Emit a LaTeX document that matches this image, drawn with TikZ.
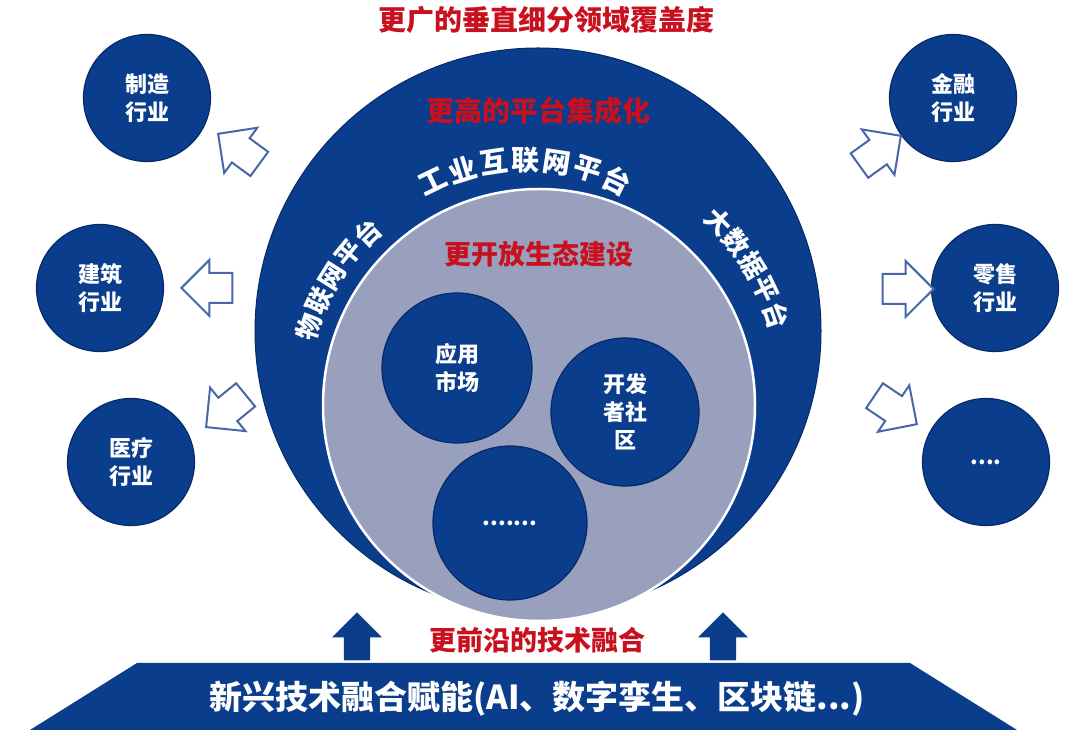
\documentclass[tikz,border=0pt]{standalone}
\usepackage{fontspec}
\setmainfont{Noto Sans CJK SC}
\definecolor{dkblue}{RGB}{10,61,140}
\definecolor{dkedge}{RGB}{6,42,104}
\definecolor{ecogray}{RGB}{152,160,190}
\definecolor{arrowblue}{RGB}{72,102,168}
\definecolor{accred}{RGB}{200,16,30}
\usetikzlibrary{shapes.arrows,shapes.geometric}

\begin{document}
\begin{tikzpicture}[x=1pt, y=1pt,
    ind/.style={circle, fill=dkblue, draw=dkedge, line width=1.2pt,
                minimum size=127, inner sep=0pt, text=white, align=center,
                font=\fontsize{22}{28}\selectfont\bfseries},
    eco/.style={ind, minimum size=150},
    hollow/.style={single arrow, draw=arrowblue, fill=white, line width=2pt,
                   minimum height=51, inner xsep=0pt, inner ysep=14pt,
                   single arrow head extend=13pt, anchor=tip},
    pushup/.style={single arrow, fill=dkblue, rotate=90, anchor=tip,
                   minimum height=48, inner xsep=0pt, inner ysep=13pt,
                   single arrow head extend=12pt},
    redtitle/.style={text=accred, font=\fontsize{28}{30}\selectfont\bfseries},
    ringchar/.style={text=white, inner sep=0pt,
                     font=\fontsize{26}{26}\selectfont\bfseries}
  ]
    \useasboundingbox (0,0) rectangle (1080,736);

    % Platform ring and ecosystem core
    \node[circle, fill=dkblue, draw=dkedge, line width=1pt, minimum size=566] (ring) at (538,405) {};
    \node[circle, fill=ecogray, draw=white, line width=2.5pt, minimum size=432] (core) at (539,331) {};

    % Ecosystem circles
    \node[eco] (market) at (457,368) {应用\\市场};
    \node[eco, minimum size=148] (dev) at (625,324) {开发\\者社\\区};
    \node[eco, minimum size=154] (eco3) at (510,213) {.......};

    % Industry circles, left
    \node[ind] (manuf) at (147,638) {制造\\行业};
    \node[ind] (build) at (100,448) {建筑\\行业};
    \node[ind] (health) at (131,274) {医疗\\行业};

    % Industry circles, right
    \node[ind] (finance) at (953,638) {金融\\行业};
    \node[ind] (retail) at (995,448) {零售\\行业};
    \node[ind] (more) at (986,274) {....};

    % Hollow arrows out of the ring
    \node[hollow, rotate=143.8] (toManuf) at (217,603) {};
    \node[hollow, rotate=180] (toBuild) at (180,448) {};
    \node[hollow, rotate=219.2] (toHealth) at (205,308) {};
    \node[hollow, rotate=35.7] (toFinance) at (902,601) {};
    \node[hollow, rotate=0] (toRetail) at (935,447) {};
    \node[hollow, rotate=-34] (toMore) at (918,311) {};

    % Headings
    \node[redtitle] (cover) at (546,716) {更广的垂直细分领域覆盖度};
    \node[redtitle] (integ) at (538,625) {更高的平台集成化};
    \node[redtitle, font=\fontsize{27}{30}\selectfont\bfseries] (open) at (539,482) {更开放生态建设};
    \node[redtitle, font=\fontsize{27}{30}\selectfont\bfseries] (front) at (537,96) {更前沿的技术融合};

    % Platform names along the ring
    \foreach \ch [count=\i from 0] in {工,业,互,联,网,平,台}
      \node[ringchar, font=\fontsize{28}{28}\selectfont\bfseries, rotate={25.8-8.6*\i}]
        (iip\i) at ([shift={(525,365)}]{115.8-8.6*\i}:211) {\ch};
    \foreach \ch [count=\i from 0] in {物,联,网,平,台}
      \node[ringchar, rotate={72.1-7.1*\i}]
        (iot\i) at ([shift={(525,339)}]{162.1-7.1*\i}:227) {\ch};
    \foreach \ch [count=\i from 0] in {大,数,据,平,台}
      \node[ringchar, rotate={-45.5-6.35*\i}]
        (data\i) at ([shift={(540,339)}]{44.5-6.35*\i}:250) {\ch};

    % Technology base
    \fill[dkblue] (30,6) -- (1017,6) -- (910,73) -- (137,73) -- cycle;
    \node[text=white, font=\fontsize{33}{36}\selectfont\bfseries] (base) at (537,37)
      {新兴技术融合赋能(AI、数字孪生、区块链...)};
    \node[pushup] (upL) at (357,124) {};
    \node[pushup] (upR) at (723,124) {};
  \end{tikzpicture}
\end{document}
